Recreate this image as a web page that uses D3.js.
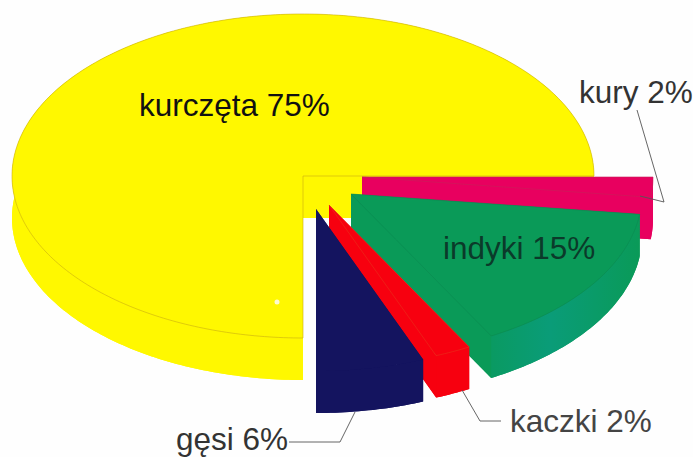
<!DOCTYPE html>
<html>
<head>
<meta charset="utf-8">
<script src="https://cdn.jsdelivr.net/npm/d3@7/dist/d3.min.js"></script>
<style>
  html, body { margin: 0; padding: 0; background: #fefefe; overflow: hidden; }
  text { font-family: "Liberation Sans", Arial, sans-serif; font-size: 31.5px; }
</style>
</head>
<body>
<div id="chart"></div>
<script>
const names  = ["kurczęta", "kury", "indyki", "kaczki", "gęsi"];
const shares = [75, 2, 15, 2, 6];

// layout only, same order as names
const W = 693, H = 457;
const cx = 303, cy = 176, rx = 291, ry = 162, depth = 42;
const shift = [[0, 0], [59, 1], [48, 18], [26, 29], [13, 33]];
const topCol  = ["#fff800", "#e8005f", "#0a9a58", "#f7000f", "#14145f"];
const sideCol = ["#fff800", "#e8005f", "url(#greenRim)", "#f7000f", "#14145f"];
const wallCol = ["#fff800", "#e8005f", "#0a9a58", "#f7000f", "#14145f"];
const edgeCol = ["#c9ad10", "#c8205a", "#0b8a50", "#e8301c", "none"];

const labels = [
    {t: "kurczęta 75%", x: 139, y: 116, c: "#111"},
    {t: "kury 2%",      x: 579, y: 103, c: "#333"},
    {t: "indyki 15%",   x: 443, y: 259, c: "#0b3a2a"},
    {t: "kaczki 2%",    x: 510, y: 432, c: "#444"},
    {t: "gęsi 6%",      x: 176, y: 450, c: "#333"}
];
const leaders = [
    [[637, 110], [664, 202], [640, 196]],
    [[462, 390], [480, 421], [501, 421]],
    [[355, 412], [340, 442], [289, 442]]
];

const svg = d3.select("#chart").append("svg").attr("width", W).attr("height", H)
    .style("display", "block");

// the green rim drifts to teal towards its lower end
const grad = svg.append("defs").append("linearGradient").attr("id", "greenRim")
    .attr("x1", 0).attr("y1", 0).attr("x2", 1).attr("y2", 0);
grad.append("stop").attr("offset", "0%").attr("stop-color", "#0a9a62");
grad.append("stop").attr("offset", "40%").attr("stop-color", "#0a9c78");
grad.append("stop").attr("offset", "100%").attr("stop-color", "#0a9a58");

const pie = d3.pie().sort(null).startAngle(-Math.PI).endAngle(Math.PI);
const slices = pie(shares);

const sx = d3.scaleLinear().domain([-1, 1]).range([-rx, rx]);
const sy = d3.scaleLinear().domain([-1, 1]).range([-ry, ry]);
const pt = (a, dx, dy) => [cx + dx + sx(Math.sin(a)), cy + dy + sy(-Math.cos(a))];
const line = d3.line();

// top of a slice, as an elliptical sector
function sectorPts(s, dx, dy) {
    const n = Math.max(2, Math.ceil((s.endAngle - s.startAngle) * 60));
    const arc = d3.range(n + 1).map(i => pt(s.startAngle + (s.endAngle - s.startAngle) * i / n, dx, dy));
    return [[cx + dx, cy + dy], ...arc];
}

slices.forEach((s, i) => {
    const [dx, dy] = shift[i];
    const g = svg.append("g");

    // bottom face pokes out under the cut edges
    g.append("path").attr("d", line(sectorPts(s, dx, dy + depth)) + "Z").attr("fill", wallCol[i]);

    // radial walls
    [s.startAngle, s.endAngle].forEach(a => {
        const p = pt(a, dx, dy);
        g.append("path")
            .attr("d", line([[cx + dx, cy + dy], p, [p[0], p[1] + depth], [cx + dx, cy + dy + depth]]) + "Z")
            .attr("fill", wallCol[i]);
    });

    // outer rim
    const top = sectorPts(s, dx, dy).slice(1);
    const low = sectorPts(s, dx, dy + depth).slice(1).reverse();
    g.append("path").attr("d", line([...top, ...low]) + "Z").attr("fill", sideCol[i]);

    g.append("path").attr("d", line(sectorPts(s, dx, dy)) + "Z")
        .attr("fill", topCol[i]).attr("stroke", edgeCol[i]).attr("stroke-width", 0.6);
});

// small print flaw on the yellow slice
svg.append("circle").attr("cx", 277).attr("cy", 302).attr("r", 2.5).attr("fill", "#fffbd0");

svg.selectAll(".leader").data(leaders).enter().append("path")
    .attr("class", "leader")
    .attr("d", d => line(d))
    .attr("fill", "none").attr("stroke", "#555").attr("stroke-width", 0.9);

svg.selectAll(".lab").data(labels).enter().append("text")
    .attr("class", "lab")
    .attr("x", d => d.x).attr("y", d => d.y)
    .attr("fill", d => d.c)
    .text(d => d.t);
</script>
</body>
</html>
